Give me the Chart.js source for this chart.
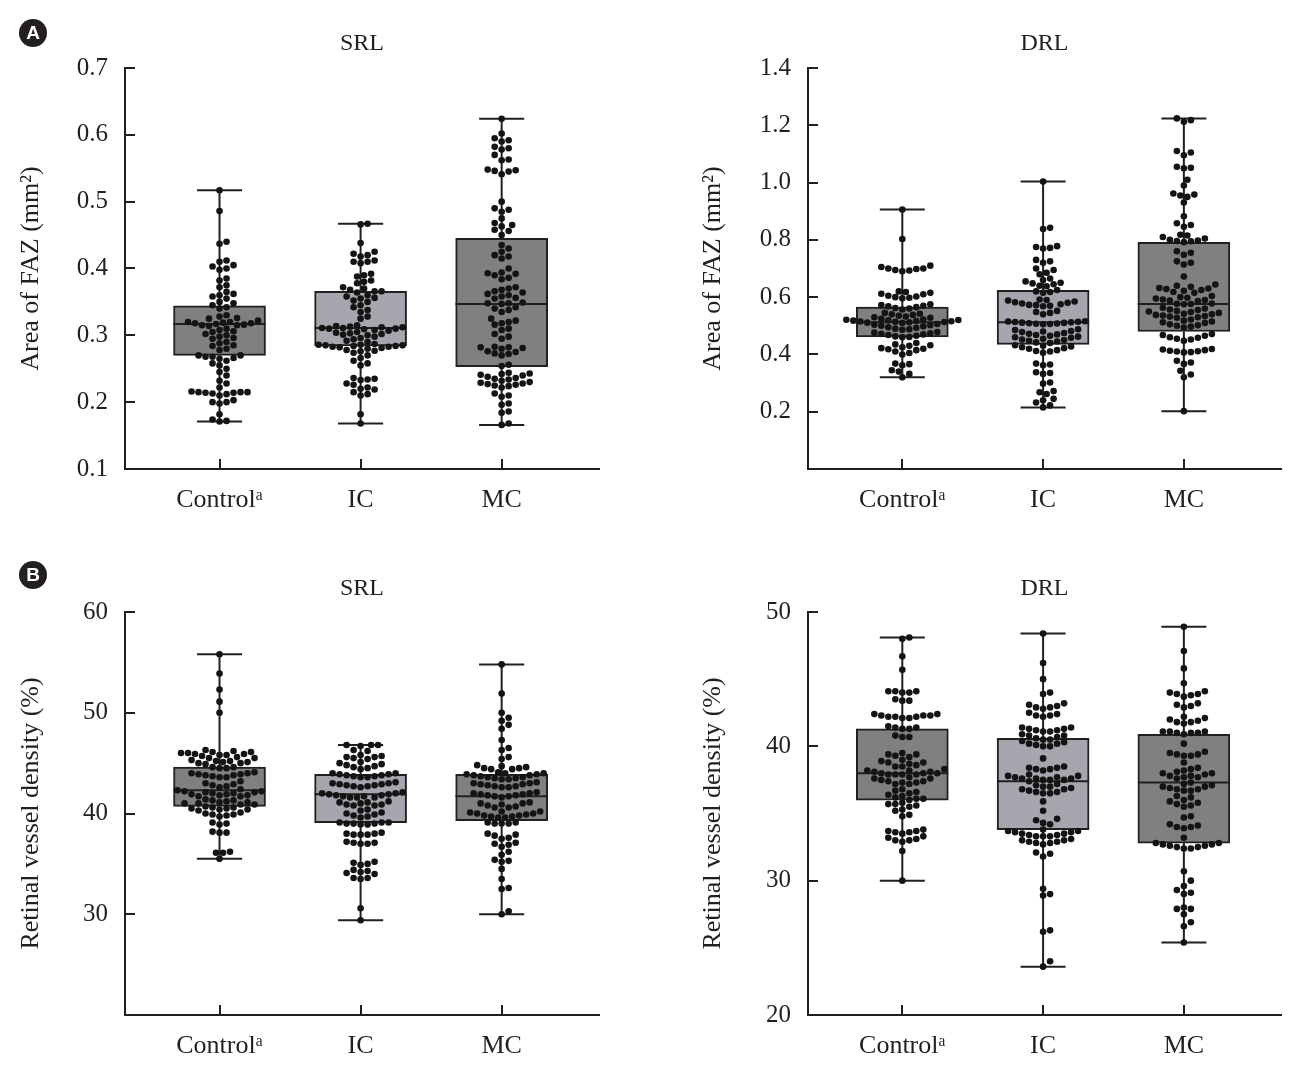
<!DOCTYPE html>
<html>
<head>
<meta charset="utf-8">
<script src="https://cdn.jsdelivr.net/npm/chart.js@4.4.1/dist/chart.umd.min.js"></script>
<style>
  body { margin: 0; background: #fff; }
  #page { position: relative; width: 1300px; height: 1075px; overflow: hidden; }
  canvas { position: absolute; }
  .tag { position: absolute; width: 28px; height: 28px; border-radius: 50%; background: #231f20; color: #fff;
         font: bold 19px 'Liberation Sans', Arial, sans-serif; text-align: center; line-height: 28px; }
</style>
</head>
<body>
<div id="page">
  <canvas id="faz-srl" width="650" height="540" style="left:0;top:0"></canvas>
  <canvas id="faz-drl" width="650" height="540" style="left:650px;top:0"></canvas>
  <canvas id="vd-srl" width="650" height="530" style="left:0;top:545px"></canvas>
  <canvas id="vd-drl" width="650" height="530" style="left:650px;top:545px"></canvas>
  <div class="tag" style="left:19px;top:19px">A</div>
  <div class="tag" style="left:19px;top:561px">B</div>
</div>
<script>
var groups = ['Control\u1D43', 'IC', 'MC'];

// A: area of FAZ (mm2), superficial retinal layer
var fazSrlControl = [0.517, 0.486, 0.44, 0.437, 0.412, 0.41, 0.405, 0.403, 0.40, 0.398,
  0.385, 0.382, 0.375, 0.372, 0.365, 0.362, 0.36, 0.358, 0.355, 0.35, 0.348, 0.345, 0.342, 0.34,
  0.33, 0.328, 0.326, 0.325, 0.322, 0.32, 0.32, 0.319, 0.318, 0.318, 0.317, 0.316, 0.315, 0.315, 0.314,
  0.31, 0.308, 0.306, 0.305, 0.302, 0.30, 0.298, 0.296, 0.295, 0.29, 0.288, 0.285, 0.284, 0.28, 0.278,
  0.27, 0.27, 0.268, 0.268, 0.266, 0.265, 0.262, 0.258, 0.255, 0.25, 0.245, 0.24, 0.232, 0.228, 0.222,
  0.216, 0.215, 0.215, 0.215, 0.214, 0.214, 0.213, 0.212, 0.21, 0.203, 0.2, 0.2, 0.198, 0.182, 0.174, 0.172, 0.171];
var fazSrlIC = [0.467, 0.466, 0.438, 0.425, 0.422, 0.42, 0.418, 0.412, 0.41, 0.41, 0.408,
  0.392, 0.39, 0.388, 0.382, 0.38, 0.378, 0.372, 0.37, 0.368, 0.366, 0.366, 0.364,
  0.36, 0.358, 0.356, 0.355, 0.352, 0.35, 0.345, 0.342, 0.338, 0.335, 0.328, 0.325,
  0.315, 0.314, 0.313, 0.312, 0.312, 0.311, 0.311, 0.31, 0.31, 0.309, 0.308, 0.307,
  0.305, 0.304, 0.303, 0.302, 0.301, 0.3, 0.298, 0.296, 0.294, 0.292, 0.29,
  0.287, 0.286, 0.286, 0.285, 0.285, 0.284, 0.284, 0.283, 0.283, 0.282, 0.281, 0.28,
  0.278, 0.277, 0.276, 0.274, 0.27, 0.266, 0.262, 0.258, 0.255,
  0.236, 0.235, 0.234, 0.233, 0.228, 0.226, 0.222, 0.22, 0.219, 0.215, 0.212, 0.21, 0.182, 0.168];
var fazSrlMC = [0.624, 0.602, 0.595, 0.592, 0.59, 0.582, 0.58, 0.578, 0.57, 0.563, 0.562, 0.548, 0.547, 0.546, 0.545, 0.541,
  0.5, 0.49, 0.488, 0.485, 0.475, 0.468, 0.465, 0.463, 0.458, 0.456, 0.45,
  0.435, 0.43, 0.425, 0.42, 0.418, 0.415, 0.4, 0.394, 0.393, 0.392, 0.39, 0.386, 0.384,
  0.372, 0.37, 0.368, 0.366, 0.364, 0.362, 0.36, 0.358, 0.356, 0.355, 0.349, 0.348, 0.348, 0.347, 0.342, 0.34, 0.338, 0.335,
  0.325, 0.322, 0.32, 0.318, 0.316, 0.31, 0.308, 0.302, 0.298, 0.295,
  0.283, 0.282, 0.282, 0.281, 0.28, 0.276, 0.275, 0.273, 0.272, 0.27, 0.256, 0.254,
  0.244, 0.243, 0.242, 0.241, 0.24, 0.238, 0.236, 0.235, 0.234, 0.232, 0.23, 0.229, 0.228, 0.227, 0.226, 0.225, 0.224, 0.222,
  0.213, 0.21, 0.208, 0.198, 0.196, 0.186, 0.184, 0.168, 0.166];
var fazSrlMin = [0.171, 0.168, 0.166];
var fazSrlQ1 = [0.270, 0.284, 0.253];
var fazSrlMedian = [0.317, 0.311, 0.347];
var fazSrlQ3 = [0.344, 0.366, 0.445];
var fazSrlMax = [0.517, 0.467, 0.624];
var fazSrlTicks = [0.1, 0.2, 0.3, 0.4, 0.5, 0.6, 0.7];

// A: area of FAZ (mm2), deep retinal layer
var fazDrlControl = [0.906, 0.803, 0.71, 0.705, 0.70, 0.70, 0.698, 0.695, 0.693, 0.69,
  0.62, 0.618, 0.615, 0.612, 0.61, 0.605, 0.602, 0.60, 0.598, 0.596,
  0.575, 0.572, 0.57, 0.568, 0.565, 0.562, 0.56, 0.557,
  0.545, 0.542, 0.54, 0.538, 0.535, 0.532, 0.53, 0.528,
  0.524, 0.522, 0.521, 0.52, 0.519, 0.518, 0.517, 0.516, 0.515, 0.514, 0.513, 0.512, 0.511, 0.51,
  0.506, 0.504, 0.502, 0.5, 0.498, 0.495, 0.493, 0.49, 0.488, 0.486,
  0.478, 0.476, 0.474, 0.472, 0.47, 0.468, 0.465, 0.463, 0.461, 0.46,
  0.44, 0.435, 0.432, 0.43, 0.425, 0.422, 0.42, 0.418, 0.415, 0.41, 0.405, 0.40,
  0.368, 0.366, 0.362, 0.345, 0.34, 0.332, 0.32];
var fazDrlIC = [1.004, 0.842, 0.838, 0.778, 0.775, 0.772, 0.77, 0.73, 0.725, 0.72,
  0.70, 0.695, 0.685, 0.68, 0.665, 0.66, 0.655, 0.65, 0.648, 0.645, 0.64, 0.638,
  0.625, 0.62, 0.618, 0.615,
  0.592, 0.59, 0.588, 0.585, 0.582, 0.58, 0.578, 0.575, 0.573, 0.572, 0.57, 0.568,
  0.552, 0.548, 0.545, 0.54,
  0.516, 0.515, 0.514, 0.513, 0.512, 0.511, 0.51, 0.509, 0.508, 0.507, 0.506, 0.505,
  0.488, 0.485, 0.482, 0.48, 0.478, 0.475, 0.472, 0.47, 0.468, 0.465, 0.462, 0.46, 0.458, 0.455, 0.452, 0.45, 0.448, 0.445, 0.442, 0.44,
  0.432, 0.43, 0.428, 0.425, 0.422, 0.42, 0.415, 0.412, 0.41, 0.406,
  0.368, 0.365, 0.362, 0.338, 0.335, 0.332, 0.302, 0.298, 0.272, 0.268, 0.262, 0.245, 0.24, 0.232, 0.222, 0.215];
var fazDrlMC = [1.224, 1.218, 1.212, 1.11, 1.105, 1.095, 1.055, 1.052, 1.05, 1.01, 0.99,
  0.962, 0.958, 0.955, 0.95, 0.93, 0.882, 0.858, 0.852, 0.846,
  0.818, 0.815, 0.81, 0.805, 0.8, 0.798, 0.796, 0.795, 0.792,
  0.76, 0.755, 0.748, 0.725, 0.72, 0.714, 0.672,
  0.644, 0.64, 0.636, 0.632, 0.63, 0.628, 0.625, 0.622, 0.618, 0.615,
  0.604, 0.6, 0.598, 0.595, 0.592, 0.59, 0.588, 0.586, 0.578, 0.577, 0.576, 0.575,
  0.563, 0.56, 0.557, 0.555, 0.552, 0.55, 0.548, 0.545, 0.542, 0.54, 0.538, 0.536, 0.534, 0.532, 0.53, 0.528,
  0.522, 0.518, 0.515, 0.512, 0.51, 0.505, 0.502, 0.5, 0.497, 0.494,
  0.471, 0.468, 0.465, 0.46, 0.458, 0.455, 0.452, 0.448,
  0.419, 0.417, 0.415, 0.413, 0.411, 0.41, 0.408, 0.407,
  0.378, 0.372, 0.367, 0.343, 0.33, 0.32, 0.202];
var fazDrlMin = [0.320, 0.215, 0.202];
var fazDrlQ1 = [0.461, 0.435, 0.480];
var fazDrlMedian = [0.512, 0.512, 0.576];
var fazDrlQ3 = [0.565, 0.624, 0.791];
var fazDrlMax = [0.906, 1.004, 1.224];
var fazDrlTicks = [0, 0.2, 0.4, 0.6, 0.8, 1.0, 1.2, 1.4];

// B: retinal vessel density (%), superficial retinal layer
var vdSrlControl = [55.8, 53.9, 52.3, 51.1, 50.0,
  46.3, 46.2, 46.1, 46.1, 46.0, 46.0, 45.9, 45.9, 45.8, 45.8, 45.7, 45.6, 45.5, 45.5,
  45.3, 45.2, 45.2, 45.1, 45.1, 45.0, 45.0, 44.9,
  44.6, 44.6, 44.5, 44.5,
  44.1, 44.0, 44.0, 43.9, 43.9, 43.8, 43.8, 43.7, 43.6, 43.6,
  43.2, 43.0, 42.9, 42.8, 42.7, 42.6,
  42.4, 42.3, 42.2, 42.2, 42.1, 42.1, 42.0, 42.0, 41.9, 41.9, 41.8, 41.8, 41.7, 41.7,
  41.4, 41.3, 41.3, 41.2, 41.1, 41.1, 41.0, 41.0, 40.9, 40.9,
  40.7, 40.6, 40.6, 40.5, 40.5, 40.4, 40.4, 40.3,
  40.1, 40.0, 39.9, 39.9, 39.8, 39.7,
  39.1, 39.0, 38.9, 38.2, 38.1, 38.1, 36.2, 36.1, 36.1, 35.5];
var vdSrlIC = [46.8, 46.8, 46.8, 46.7, 46.3, 46.2,
  45.8, 45.7, 45.6, 45.6, 45.5, 45.4,
  45.1, 45.0, 44.9, 44.8, 44.7, 44.6, 44.5, 44.4,
  44.0, 44.0, 43.9, 43.9, 43.8, 43.8, 43.7, 43.7, 43.6, 43.6,
  43.1, 43.0, 43.0, 42.9, 42.9, 42.8, 42.8, 42.7, 42.7, 42.6,
  42.1, 42.0, 42.0, 41.9, 41.9, 41.8, 41.8, 41.7, 41.7, 41.6, 41.6, 41.6,
  41.2, 41.1, 41.1, 41.0, 40.9, 40.9, 40.8, 40.8,
  40.4, 40.3, 40.1, 40.0, 39.9, 39.8, 39.7, 39.6,
  39.1, 39.1, 39.1, 39.0, 39.0, 39.0, 38.9, 38.9,
  38.1, 38.0, 38.0, 37.9, 37.9, 37.9,
  37.2, 37.1, 37.1, 37.0, 37.0,
  35.2, 35.1, 35.0, 34.9, 34.4, 34.3, 34.2, 34.1, 34.0, 33.6, 33.6, 33.5, 30.6, 29.4];
var vdSrlMC = [54.8, 51.9, 50.0, 49.5, 49.2, 48.8, 48.4, 47.3, 46.5, 46.3, 45.6, 45.4,
  44.8, 44.7, 44.6, 44.5, 44.5, 44.4, 44.4,
  44.1, 44.0, 44.0, 43.9, 43.9, 43.8, 43.8, 43.7, 43.6, 43.6, 43.5, 43.5, 43.4, 43.4,
  43.1, 43.0, 43.0, 42.9, 42.9, 42.8, 42.7, 42.7, 42.6, 42.6,
  42.1, 42.0, 42.0, 41.9, 41.9, 41.8, 41.8, 41.7, 41.7, 41.6,
  41.1, 41.0, 41.0, 40.9, 40.8, 40.7, 40.6, 40.6,
  40.2, 40.2, 40.1, 40.0, 40.0, 39.9, 39.8, 39.8, 39.7, 39.7, 39.6, 39.6,
  39.1, 39.1, 39.0, 39.0, 39.0,
  38.0, 37.9, 37.8, 37.6, 37.5, 37.1, 37.0, 36.9, 36.7, 36.2, 35.9, 35.4, 35.3, 35.2, 34.5, 33.5, 32.6, 32.5, 30.3, 30.0];
var vdSrlMin = [35.5, 29.4, 30.0];
var vdSrlQ1 = [40.7, 39.1, 39.3];
var vdSrlMedian = [42.3, 41.9, 41.7];
var vdSrlQ3 = [44.6, 43.9, 43.9];
var vdSrlMax = [55.8, 46.8, 54.8];
var vdSrlTicks = [20, 30, 40, 50, 60];

// B: retinal vessel density (%), deep retinal layer
var vdDrlControl = [48.1, 48.0, 46.7, 45.7, 44.1, 44.1, 44.1, 44.0, 44.0, 43.5, 43.4, 43.4,
  42.4, 42.4, 42.3, 42.3, 42.3, 42.2, 42.2, 42.2, 42.1, 42.1,
  41.5, 41.4, 41.4, 41.3, 41.3, 40.8, 40.7, 40.7,
  39.5, 39.4, 39.4, 39.3, 39.2,
  39.0, 38.9, 38.8, 38.8, 38.7, 38.6, 38.5, 38.5,
  38.3, 38.2, 38.2, 38.1, 38.1, 38.0, 38.0, 38.0, 37.9, 37.9, 37.9, 37.9,
  37.7, 37.6, 37.6, 37.5, 37.4, 37.4, 37.3, 37.3, 37.2, 37.2,
  36.8, 36.7, 36.6, 36.5, 36.4, 36.3, 36.2, 36.1, 36.1, 36.0,
  35.8, 35.7, 35.7, 35.6, 35.5, 35.3, 35.2, 34.9, 34.8,
  33.8, 33.7, 33.7, 33.6, 33.6, 33.5, 33.3, 33.2, 33.1, 33.0, 33.0, 32.9, 32.2, 30.0];
var vdDrlIC = [48.4, 46.2, 45.0, 44.0, 43.9, 43.2, 43.1, 43.0, 42.9, 42.9, 42.8, 42.5, 42.4, 42.3, 42.3, 42.2,
  41.4, 41.4, 41.3, 41.3, 41.2, 41.2, 41.1, 41.1,
  40.9, 40.8, 40.8, 40.7, 40.6, 40.5, 40.5, 40.4, 40.3, 40.2, 40.2, 40.1, 40.0, 40.0,
  39.1, 38.5, 38.4, 38.4, 38.3, 38.3, 38.2,
  37.9, 37.8, 37.8, 37.7, 37.7, 37.6, 37.6, 37.6, 37.5, 37.5, 37.5, 37.4,
  37.2, 37.1, 37.0, 37.0, 36.9, 36.8, 36.8, 36.7, 36.6, 36.6, 36.5, 36.5,
  35.9, 35.2, 34.6, 34.5, 34.3, 34.2,
  33.8, 33.7, 33.7, 33.6, 33.6, 33.5, 33.5, 33.4, 33.4, 33.3, 33.3, 33.3,
  33.1, 33.0, 33.0, 32.9, 32.9, 32.8, 32.8, 32.7,
  32.1, 32.0, 31.8, 29.4, 29.0, 28.9, 26.3, 26.2, 24.0, 23.6];
var vdDrlMC = [48.9, 47.1, 45.8, 44.7, 44.1, 44.0, 43.9, 43.9, 43.8, 43.7, 43.2, 43.1, 43.0, 42.9,
  42.2, 42.1, 42.0, 41.9, 41.8, 41.8, 41.7,
  41.1, 41.1, 41.1, 41.0, 41.0, 41.0, 40.9, 40.2,
  39.6, 39.5, 39.4, 39.4, 39.3, 39.3, 38.8,
  38.4, 38.3, 38.2, 38.1, 38.0, 38.0, 37.9, 37.8, 37.8, 37.7, 37.7, 37.6,
  37.3, 37.2, 37.1, 37.0, 37.0, 36.9, 36.8, 36.8, 36.7, 36.7,
  36.3, 36.2, 36.0, 35.9, 35.8, 35.7, 35.6, 35.5,
  34.8, 34.7, 34.2, 34.1, 34.0, 34.0, 33.9, 33.2,
  32.8, 32.8, 32.7, 32.7, 32.6, 32.6, 32.5, 32.5, 32.4, 32.4,
  30.7, 30.0, 29.6, 29.3, 29.1, 29.0, 28.0, 27.9, 27.9, 27.5, 26.9, 26.6, 25.4];
var vdDrlMin = [30.0, 23.6, 25.4];
var vdDrlQ1 = [36.0, 33.8, 32.8];
var vdDrlMedian = [38.0, 37.4, 37.3];
var vdDrlQ3 = [41.3, 40.6, 40.9];
var vdDrlMax = [48.1, 48.4, 48.9];
var vdDrlTicks = [20, 30, 40, 50];

var INK = '#231f20';
var BOX_FILL = ['#808080', '#a6a6ae', '#808080'];
var BOX_HALF = 0.327;   // half box width, x units
var CAP_HALF = 0.16;    // half whisker cap width, x units
var DOT_STEP = 3.5;     // px tried between dot positions
var DOT_GAP = 6.6;      // px minimum dot distance

Chart.defaults.font.family = "'Liberation Serif', 'Times New Roman', serif";
Chart.defaults.color = INK;

var gap = {x: null, y: null};

// inward tick marks, as in the original figure
var innerTicks = {
  id: 'innerTicks',
  afterDatasetsDraw: function (chart) {
    var ctx = chart.ctx, a = chart.chartArea;
    var xs = chart.scales.x, ys = chart.scales.y;
    ctx.save();
    ctx.strokeStyle = INK;
    ctx.lineWidth = 2;
    ys.ticks.forEach(function (t, i) {
      if (i === 0) return;
      var y = Math.round(ys.getPixelForValue(t.value));
      ctx.beginPath(); ctx.moveTo(a.left, y); ctx.lineTo(a.left + 10, y); ctx.stroke();
    });
    xs.ticks.forEach(function (t) {
      var x = Math.round(xs.getPixelForValue(t.value));
      ctx.beginPath(); ctx.moveTo(x, a.bottom); ctx.lineTo(x, a.bottom - 10); ctx.stroke();
    });
    ctx.restore();
  }
};

// beeswarm offsets, worked out in pixels from the chart's own scales
function swarm(chart, lists) {
  var xs = chart.scales.x, ys = chart.scales.y;
  var unit = xs.getPixelForValue(2) - xs.getPixelForValue(1);
  var out = [];
  lists.forEach(function (vals, g) {
    var placed = [];
    vals.slice().sort(function (a, b) { return a - b; }).forEach(function (v) {
      var py = ys.getPixelForValue(v), off = 0;
      for (var k = 0; k < 80; k++) {
        off = (k % 2 ? 1 : -1) * Math.ceil(k / 2) * DOT_STEP;
        var clash = placed.some(function (p) {
          var dx = p.x - off, dy = p.y - py;
          return dx * dx + dy * dy < DOT_GAP * DOT_GAP;
        });
        if (!clash) break;
      }
      placed.push({x: off, y: py});
      out.push({x: g + 1 + off / unit, y: v});
    });
  });
  return out;
}

function makePanel(id, p) {
  var medians = [], whiskers = [];
  groups.forEach(function (g, i) {
    var x = i + 1;
    medians.push({x: x - BOX_HALF, y: p.median[i]}, {x: x + BOX_HALF, y: p.median[i]}, gap);
    whiskers.push({x: x, y: p.min[i]}, {x: x, y: p.q1[i]}, gap,
                  {x: x, y: p.q3[i]}, {x: x, y: p.max[i]}, gap,
                  {x: x - CAP_HALF, y: p.min[i]}, {x: x + CAP_HALF, y: p.min[i]}, gap,
                  {x: x - CAP_HALF, y: p.max[i]}, {x: x + CAP_HALF, y: p.max[i]}, gap);
  });

  var chart = new Chart(document.getElementById(id), {
    type: 'scatter',
    data: {
      datasets: [{
        type: 'scatter',
        data: [],
        pointRadius: 3.3,
        pointBackgroundColor: '#141414',
        pointBorderWidth: 0,
        order: 0
      }, {
        type: 'line',
        data: medians.concat(whiskers),
        borderColor: INK,
        borderWidth: 2,
        pointRadius: 0,
        spanGaps: false,
        order: 1
      }, {
        type: 'bar',
        data: groups.map(function (g, i) { return {x: i + 1, y: [p.q1[i], p.q3[i]]}; }),
        backgroundColor: BOX_FILL,
        borderColor: INK,
        borderWidth: 2,
        borderSkipped: false,
        barThickness: 92,
        grouped: false,
        order: 2
      }]
    },
    options: {
      responsive: false,
      animation: false,
      events: [],
      layout: {padding: {left: 0, right: p.padRight, top: 0, bottom: 0}},
      plugins: {
        legend: {display: false},
        tooltip: {enabled: false},
        title: {
          display: true, text: p.title, fullSize: false,
          font: {size: 24, weight: 'normal'}, color: INK,
          padding: {top: 29, bottom: p.titleGap}
        }
      },
      scales: {
        x: {
          type: 'linear', min: 0.33, max: 3.69, offset: false,
          grid: {display: false, drawTicks: false},
          border: {display: true, color: INK, width: 2},
          afterBuildTicks: function (s) { s.ticks = groups.map(function (g, i) { return {value: i + 1}; }); },
          ticks: {
            padding: 16, color: INK, font: {size: 26}, autoSkip: false, maxRotation: 0,
            callback: function (v) { return groups[v - 1]; }
          },
          afterFit: function (s) { s.height = p.xHeight; }
        },
        y: {
          type: 'linear', min: p.ticks[0], max: p.ticks[p.ticks.length - 1],
          grid: {display: false, drawTicks: false},
          border: {display: true, color: INK, width: 2},
          afterBuildTicks: function (s) { s.ticks = p.ticks.map(function (v) { return {value: v}; }); },
          ticks: {
            padding: 17, color: INK, font: {size: 25},
            callback: function (v, i) { return (p.hideFirst && i === 0) ? '' : v.toFixed(p.decimals); }
          },
          title: {display: true, text: p.yTitle, color: INK, font: {size: 26}, padding: {top: p.yTitlePad, bottom: 0}},
          afterFit: function (s) { s.width = p.yWidth; }
        }
      }
    },
    plugins: [innerTicks]
  });

  chart.data.datasets[0].data = swarm(chart, p.points);
  chart.update('none');
  return chart;
}

makePanel('faz-srl', {
  title: 'SRL', yTitle: 'Area of FAZ (mm\u00B2)', ticks: fazSrlTicks, decimals: 1, hideFirst: false,
  points: [fazSrlControl, fazSrlIC, fazSrlMC],
  min: fazSrlMin, q1: fazSrlQ1, median: fazSrlMedian, q3: fazSrlQ3, max: fazSrlMax,
  yWidth: 125, yTitlePad: 16, padRight: 51, xHeight: 71, titleGap: 10.2
});
makePanel('faz-drl', {
  title: 'DRL', yTitle: 'Area of FAZ (mm\u00B2)', ticks: fazDrlTicks, decimals: 1, hideFirst: true,
  points: [fazDrlControl, fazDrlIC, fazDrlMC],
  min: fazDrlMin, q1: fazDrlQ1, median: fazDrlMedian, q3: fazDrlQ3, max: fazDrlMax,
  yWidth: 158, yTitlePad: 48, padRight: 19, xHeight: 71, titleGap: 10.2
});
makePanel('vd-srl', {
  title: 'SRL', yTitle: 'Retinal vessel density (%)', ticks: vdSrlTicks, decimals: 0, hideFirst: true,
  points: [vdSrlControl, vdSrlIC, vdSrlMC],
  min: vdSrlMin, q1: vdSrlQ1, median: vdSrlMedian, q3: vdSrlQ3, max: vdSrlMax,
  yWidth: 125, yTitlePad: 16, padRight: 51, xHeight: 60, titleGap: 9.2
});
makePanel('vd-drl', {
  title: 'DRL', yTitle: 'Retinal vessel density (%)', ticks: vdDrlTicks, decimals: 0, hideFirst: false,
  points: [vdDrlControl, vdDrlIC, vdDrlMC],
  min: vdDrlMin, q1: vdDrlQ1, median: vdDrlMedian, q3: vdDrlQ3, max: vdDrlMax,
  yWidth: 158, yTitlePad: 48, padRight: 19, xHeight: 60, titleGap: 9.2
});
</script>
</body>
</html>
